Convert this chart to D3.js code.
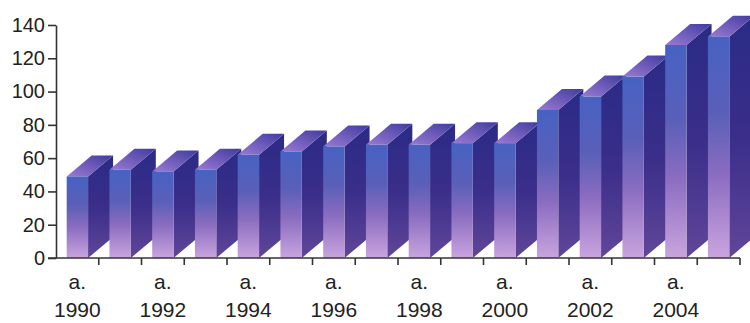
<!DOCTYPE html>
<html>
<head>
<meta charset="utf-8">
<script src="https://cdn.jsdelivr.net/npm/d3@7/dist/d3.min.js"></script>
<style>
  html, body { margin: 0; padding: 0; background: #fff; }
  svg { display: block; }
  text { font-family: "Liberation Sans", Arial, sans-serif; fill: #222; }
</style>
</head>
<body>
<svg id="chart" width="750" height="323"></svg>
<script>
// Yearly values, 1990–2005
const years = [1990, 1991, 1992, 1993, 1994, 1995, 1996, 1997,
               1998, 1999, 2000, 2001, 2002, 2003, 2004, 2005];
const values = [49, 53, 52, 53, 62, 64, 67, 68, 68, 69, 69, 89, 97, 109, 128, 133];
const yTicks = [0, 20, 40, 60, 80, 100, 120, 140];
const labelPrefix = "a.";

const svg = d3.select("#chart");
const plotL = 56, plotR = 740, plotT = 25, plotB = 258;
const depthX = 25, depthY = 21;   // oblique offset of the 3D bar depth

const x = d3.scaleBand().domain(years).range([plotL, plotR]).paddingInner(0.5).paddingOuter(0.25);
const y = d3.scaleLinear().domain([0, 140]).range([plotB, plotT]);

// gradients
const defs = svg.append("defs");
function vGrad(id, stops) {
  const g = defs.append("linearGradient").attr("id", id)
    .attr("x1", 0).attr("y1", 0).attr("x2", 0).attr("y2", 1);
  stops.forEach(([o, c]) => g.append("stop").attr("offset", o).attr("stop-color", c));
}
vGrad("gFront", [[0, "#4762c2"], [0.35, "#5a5fb8"], [0.62, "#8a6cc0"], [1, "#c9a4de"]]);
vGrad("gSide", [[0, "#2a2b86"], [0.5, "#3a2e8a"], [1, "#604699"]]);
const gt = defs.append("linearGradient").attr("id", "gTop")
  .attr("x1", 0).attr("y1", 1).attr("x2", 1).attr("y2", 0);
gt.append("stop").attr("offset", 0).attr("stop-color", "#9a7bd2");
gt.append("stop").attr("offset", 0.55).attr("stop-color", "#6a58b8");
gt.append("stop").attr("offset", 1).attr("stop-color", "#3e3c9e");

// bars, drawn left to right so each front face covers the previous side face
const bw = x.bandwidth();
const bars = svg.append("g").selectAll("g").data(years).join("g");
bars.each(function (yr, i) {
  const g = d3.select(this);
  const x0 = x(yr), x1 = x0 + bw;
  const yt = y(values[i]), yb = y(0);
  // side face
  g.append("path")
    .attr("d", `M${x1},${yb} L${x1 + depthX},${yb - depthY} L${x1 + depthX},${yt - depthY} L${x1},${yt} Z`)
    .attr("fill", "url(#gSide)");
  // top face
  g.append("path")
    .attr("d", `M${x0},${yt} L${x1},${yt} L${x1 + depthX},${yt - depthY} L${x0 + depthX},${yt - depthY} Z`)
    .attr("fill", "url(#gTop)");
  // front face
  g.append("rect")
    .attr("x", x0).attr("y", yt).attr("width", bw).attr("height", yb - yt)
    .attr("fill", "url(#gFront)");
});

// y axis
const yAxis = svg.append("g")
  .attr("transform", `translate(${plotL},0)`)
  .call(d3.axisLeft(y).tickValues(yTicks).tickSize(8).tickSizeOuter(0).tickPadding(3));
yAxis.select(".domain").attr("stroke", "#333").attr("stroke-width", 1.6);
yAxis.selectAll(".tick line").attr("stroke", "#333").attr("stroke-width", 1.6);
yAxis.selectAll(".tick text").style("font-size", "20px").attr("fill", "#2a2a2a")
  .style("font-family", "'Liberation Sans', Arial, sans-serif");

// x axis: baseline with ticks at category boundaries
const xg = svg.append("g");
xg.append("line").attr("x1", plotL - 8).attr("x2", plotR).attr("y1", plotB).attr("y2", plotB)
  .attr("stroke", "#333").attr("stroke-width", 1.6);
const bounds = d3.range(1, years.length + 1).map(k => plotL + x.step() * k);
xg.selectAll(".bt").data(bounds).join("line").attr("class", "bt")
  .attr("x1", d => d).attr("x2", d => d).attr("y1", plotB).attr("y2", plotB + 7)
  .attr("stroke", "#333").attr("stroke-width", 1.6);

// category labels on every other year
const labeled = years.filter(yr => yr % 2 === 0);
const lab = xg.selectAll(".xl").data(labeled).join("text").attr("class", "xl")
  .attr("text-anchor", "middle").style("font-size", "21px").attr("fill", "#2a2a2a");
lab.append("tspan").attr("x", d => x(d) + bw / 2).attr("y", 289).text(labelPrefix);
lab.append("tspan").attr("x", d => x(d) + bw / 2).attr("y", 317).text(d => d);
</script>
</body>
</html>
